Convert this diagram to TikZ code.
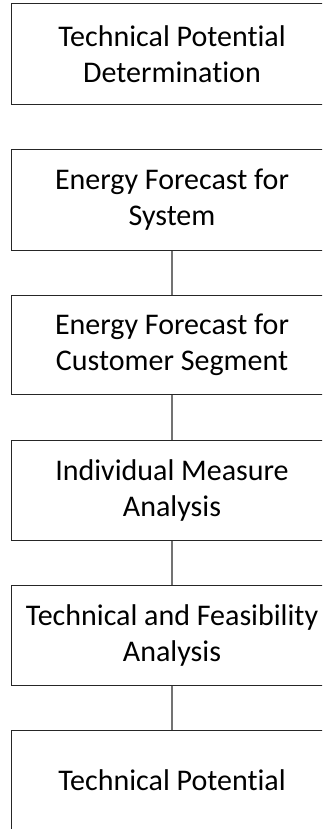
\documentclass[tikz,border=0pt]{standalone}
\usepackage{fontspec}
\setmainfont{Carlito}[Ligatures=NoCommon]
\begin{document}
\begin{tikzpicture}[x=1pt,y=1pt,
  stagebox/.style={draw=black!85, line width=1pt, minimum width=322pt, minimum height=100pt,
    align=center, inner sep=0pt, font=\fontsize{30}{36}\selectfont},
  link/.style={draw=black!55, line width=1.3pt}]
\useasboundingbox (0,0) rectangle (322,-829);
\clip (0,0) rectangle (322,-829);
\node[stagebox, minimum height=101pt] (b1) at (172,-54.5) {Technical Potential\\Determination};
\node[stagebox] (b2) at (172,-200) {Energy Forecast for\\System};
\node[stagebox, minimum height=99pt] (b3) at (172,-344.5) {Energy Forecast for\\Customer Segment};
\node[stagebox] (b4) at (172,-490) {Individual Measure\\Analysis};
\node[stagebox] (b5) at (172,-635) {Technical and Feasibility\\Analysis};
\node[stagebox] (b6) at (172,-780) {Technical Potential};
\draw[link] (b2.south) -- (b3.north);
\draw[link] (b3.south) -- (b4.north);
\draw[link] (b4.south) -- (b5.north);
\draw[link] (b5.south) -- (b6.north);
\end{tikzpicture}
\end{document}
